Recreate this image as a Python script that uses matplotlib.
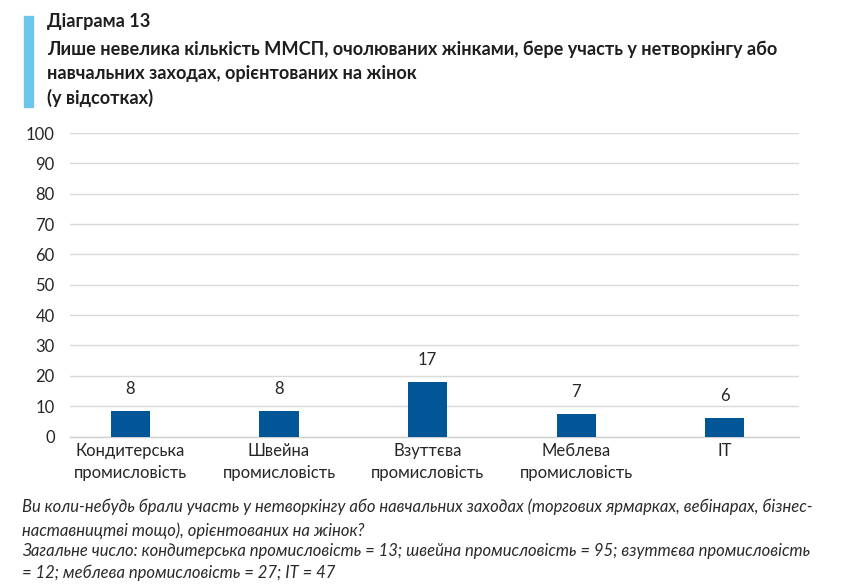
import matplotlib.pyplot as plt
import matplotlib.patches as mpatches

plt.rcParams['font.family'] = ['Lato', 'DejaVu Sans']

categories = ['Кондитерська\nпромисловість', 'Швейна\nпромисловість', 'Взуттєва\nпромисловість',
              'Меблева\nпромисловість', 'IT']
values = [8.4, 8.4, 17.9, 7.4, 6.1]
value_labels = ['8', '8', '17', '7', '6']
yticks = [0, 10, 20, 30, 40, 50, 60, 70, 80, 90, 100]

title_lines = ['Діаграма 13',
               'Лише невелика кількість ММСП, очолюваних жінками, бере участь у нетворкінгу або',
               'навчальних заходах, орієнтованих на жінок',
               '(у відсотках)']
note_lines = ['Ви коли-небудь брали участь у нетворкінгу або навчальних заходах (торгових ярмарках, вебінарах, бізнес-',
              'наставництві тощо), орієнтованих на жінок?',
              'Загальне число: кондитерська промисловість = 13; швейна промисловість = 95; взуттєва промисловість',
              '= 12; меблева промисловість = 27; IT = 47']

W, H = 847, 585
fig = plt.figure(figsize=(W / 100, H / 100), dpi=100)

# blue accent stripe next to the title
fig.patches.append(mpatches.Rectangle((24 / W, 1 - 107 / H), 9 / W, 91 / H,
                                      transform=fig.transFigure, color='#6cc5ec', zorder=0))

title_y = [22, 49, 73, 98]
for txt, y in zip(title_lines, title_y):
    fig.text(47 / W, 1 - y / H, txt, fontsize=13.1, fontweight='bold', color='#1e1e1e', va='center')

ax = fig.add_axes([70 / W, 1 - 436.5 / H, 729 / W, (436.5 - 133) / H])
x = list(range(len(categories)))
ax.bar(x, values, width=0.263, color='#005696', zorder=3)
for xi, v, lab in zip(x, values, value_labels):
    ax.annotate(lab, (xi, v), xytext=(0, 16), textcoords='offset points', ha='center', va='center',
                fontsize=12, color='#262626')

ax.set_xlim(-0.407, 4.5)
ax.set_ylim(0, 100)
ax.set_yticks(yticks)
ax.set_xticks(x)
ax.set_xticklabels(categories, linespacing=1.45)
ax.tick_params(axis='both', length=0, labelsize=12, labelcolor='#262626')
ax.tick_params(axis='y', pad=11)
ax.tick_params(axis='x', pad=5)
ax.grid(axis='y', color='#d9d9d9', linewidth=1, zorder=0)
for s in ['top', 'right', 'left']:
    ax.spines[s].set_visible(False)
ax.spines['bottom'].set_color('#d0d0d0')
ax.spines['bottom'].set_linewidth(1)

note_y = [507, 531, 551, 573]
for txt, y in zip(note_lines, note_y):
    fig.text(22 / W, 1 - y / H, txt, fontsize=12, style='italic', color='#2a2a2a', va='center')

fig.savefig('out.png', dpi=100)
